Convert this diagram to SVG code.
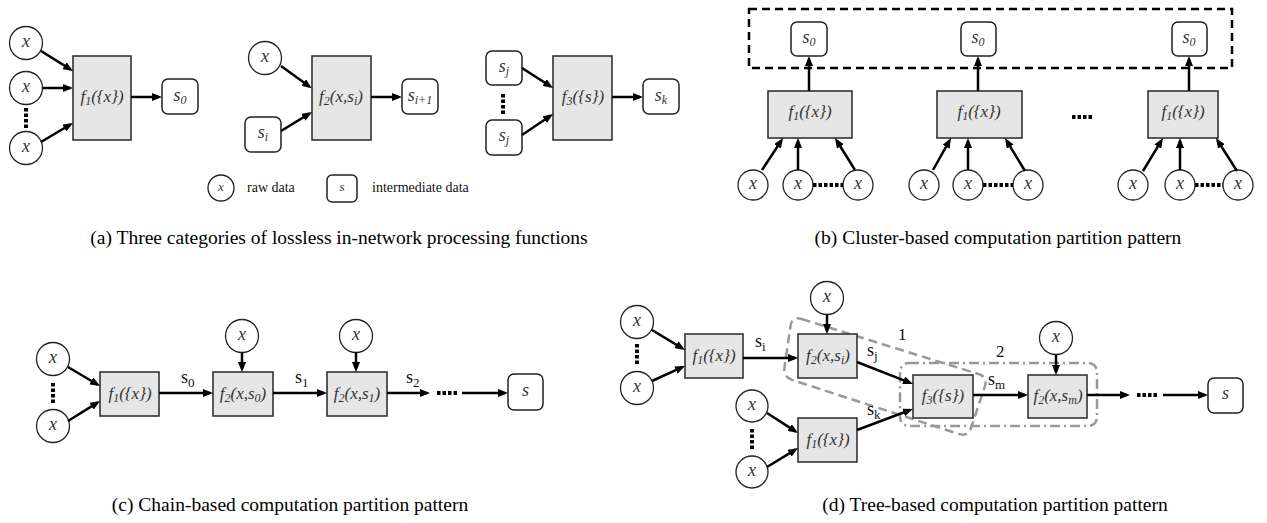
<svg xmlns="http://www.w3.org/2000/svg" width="1267" height="523" viewBox="0 0 1267 523">
<defs>
<marker id="arr" markerUnits="userSpaceOnUse" markerWidth="10" markerHeight="8" viewBox="0 0 10 8" refX="7" refY="4" orient="auto">
<path d="M0,0 L10,4 L0,8 z" fill="#000"/>
</marker>
</defs>
<style>
.box{fill:#e6e6e6;stroke:#333;stroke-width:1.6}
.rb{fill:#fff;stroke:#222;stroke-width:1.5}
.cir{fill:#fff;stroke:#222;stroke-width:1.3}
.e{stroke:#000;stroke-width:2.5;fill:none;marker-end:url(#arr)}
.dots{stroke:#000;stroke-width:4;stroke-dasharray:3.5 2;fill:none}
.lab{font-family:"Liberation Serif",serif;font-style:italic;font-size:17px;fill:#333;text-anchor:middle}
.var{font-family:"Liberation Serif",serif;font-style:italic;font-size:18px;fill:#333;text-anchor:middle}
.el{font-family:"Liberation Serif",serif;font-size:18px;fill:#111}
.cap{font-family:"Liberation Serif",serif;font-size:19.5px;fill:#000;text-anchor:middle}
.leg{font-family:"Liberation Serif",serif;font-size:14px;fill:#111}
.sub{font-size:12px}
.esub{font-size:13px}
.reg1{fill:none;stroke:#999;stroke-width:2.5;stroke-dasharray:9 5}
.reg2{fill:none;stroke:#999;stroke-width:2.5;stroke-dasharray:10 4 2 4}
.bdash{fill:none;stroke:#000;stroke-width:2.5;stroke-dasharray:8 5}
</style>

<!-- ===== Panel (a) ===== -->
<g id="a-x1"><circle class="cir" cx="26" cy="43" r="16.5"/><text class="var" x="26" y="47">x</text></g>
<g id="a-x2"><circle class="cir" cx="26" cy="88" r="16.5"/><text class="var" x="26" y="92">x</text></g>
<g id="a-x3"><circle class="cir" cx="26" cy="148" r="16.5"/><text class="var" x="26" y="152">x</text></g>
<g id="a-f1"><rect class="box" x="73" y="56" width="58" height="84"/><text class="lab" x="102" y="102">f<tspan class="sub" dy="3">1</tspan><tspan dy="-3">({x})</tspan></text></g>
<g id="a-s0"><rect class="rb" x="162" y="79" width="36" height="35" rx="6"/><text class="var" x="180" y="101">s<tspan class="sub" dy="3">0</tspan></text></g>

<g id="a-x4"><circle class="cir" cx="265" cy="58" r="16.5"/><text class="var" x="265" y="62">x</text></g>
<g id="a-si"><rect class="rb" x="245" y="117" width="36" height="35" rx="6"/><text class="var" x="263" y="138">s<tspan class="sub" dy="3">i</tspan></text></g>
<g id="a-f2"><rect class="box" x="312" y="56" width="59" height="84"/><text class="lab" x="341" y="102">f<tspan class="sub" dy="3">2</tspan><tspan dy="-3">(x,s</tspan><tspan class="sub" dy="3">i</tspan><tspan dy="-3">)</tspan></text></g>
<g id="a-si1"><rect class="rb" x="402" y="79" width="36" height="35" rx="6"/><text class="var" x="420" y="101">s<tspan class="sub" dy="3">i+1</tspan></text></g>

<g id="a-sj1"><rect class="rb" x="486" y="51" width="36" height="34" rx="6"/><text class="var" x="504" y="72">s<tspan class="sub" dy="3">j</tspan></text></g>
<g id="a-sj2"><rect class="rb" x="486" y="120" width="36" height="35" rx="6"/><text class="var" x="504" y="141">s<tspan class="sub" dy="3">j</tspan></text></g>
<g id="a-f3"><rect class="box" x="553" y="56" width="59" height="84"/><text class="lab" x="583" y="102">f<tspan class="sub" dy="3">3</tspan><tspan dy="-3">({s})</tspan></text></g>
<g id="a-sk"><rect class="rb" x="643" y="79" width="36" height="35" rx="6"/><text class="var" x="661" y="101">s<tspan class="sub" dy="3">k</tspan></text></g>

<g id="legend">
<circle class="cir" cx="221" cy="188" r="13"/><text class="var" style="font-size:13px" x="221" y="191">x</text>
<text class="leg" x="247" y="192">raw data</text>
<rect class="rb" x="327" y="175" width="30" height="27" rx="5"/><text class="var" style="font-size:13px" x="342" y="191">s</text>
<text class="leg" x="372" y="192">intermediate data</text>
</g>

<!-- ===== Panel (b) ===== -->
<rect id="b-cluster" class="bdash" x="749" y="9" width="483" height="59"/>
<g id="b-s0a"><rect class="rb" x="791" y="22" width="36" height="34" rx="6"/><text class="var" x="809" y="43">s<tspan class="sub" dy="3">0</tspan></text></g>
<g id="b-f1a"><rect class="box" x="768" y="91" width="84" height="47"/><text class="lab" x="810" y="117">f<tspan class="sub" dy="3">1</tspan><tspan dy="-3">({x})</tspan></text></g>
<g id="b-xa1"><circle class="cir" cx="753" cy="185" r="15"/><text class="var" x="753" y="189">x</text></g>
<g id="b-xa2"><circle class="cir" cx="798" cy="185" r="15"/><text class="var" x="798" y="189">x</text></g>
<g id="b-xa3"><circle class="cir" cx="858" cy="185" r="15"/><text class="var" x="858" y="189">x</text></g>

<g id="b-s0b"><rect class="rb" x="961" y="22" width="35" height="34" rx="6"/><text class="var" x="978" y="43">s<tspan class="sub" dy="3">0</tspan></text></g>
<g id="b-f1b"><rect class="box" x="937" y="91" width="85" height="47"/><text class="lab" x="979" y="117">f<tspan class="sub" dy="3">1</tspan><tspan dy="-3">({x})</tspan></text></g>
<g id="b-xb1"><circle class="cir" cx="924" cy="185" r="15"/><text class="var" x="924" y="189">x</text></g>
<g id="b-xb2"><circle class="cir" cx="968" cy="185" r="15"/><text class="var" x="968" y="189">x</text></g>
<g id="b-xb3"><circle class="cir" cx="1028" cy="185" r="15"/><text class="var" x="1028" y="189">x</text></g>

<g id="b-s0c"><rect class="rb" x="1172" y="22" width="35" height="34" rx="6"/><text class="var" x="1189" y="43">s<tspan class="sub" dy="3">0</tspan></text></g>
<g id="b-f1c"><rect class="box" x="1148" y="91" width="70" height="47"/><text class="lab" x="1183" y="117">f<tspan class="sub" dy="3">1</tspan><tspan dy="-3">({x})</tspan></text></g>
<g id="b-xc1"><circle class="cir" cx="1133" cy="185" r="15"/><text class="var" x="1133" y="189">x</text></g>
<g id="b-xc2"><circle class="cir" cx="1180" cy="185" r="15"/><text class="var" x="1180" y="189">x</text></g>
<g id="b-xc3"><circle class="cir" cx="1238" cy="185" r="15"/><text class="var" x="1238" y="189">x</text></g>

<!-- ===== Panel (c) ===== -->
<g id="c-x1"><circle class="cir" cx="53" cy="359" r="16.5"/><text class="var" x="53" y="363">x</text></g>
<g id="c-x2"><circle class="cir" cx="53" cy="426" r="16.5"/><text class="var" x="53" y="430">x</text></g>
<g id="c-f1"><rect class="box" x="100" y="372" width="59" height="44"/><text class="lab" x="130" y="399">f<tspan class="sub" dy="3">1</tspan><tspan dy="-3">({x})</tspan></text></g>
<g id="c-x3"><circle class="cir" cx="242" cy="336" r="16.5"/><text class="var" x="242" y="340">x</text></g>
<g id="c-f2a"><rect class="box" x="213" y="372" width="60" height="44"/><text class="lab" x="243" y="399">f<tspan class="sub" dy="3">2</tspan><tspan dy="-3">(x,s</tspan><tspan class="sub" dy="3">0</tspan><tspan dy="-3">)</tspan></text></g>
<g id="c-x4"><circle class="cir" cx="356" cy="336" r="16.5"/><text class="var" x="356" y="340">x</text></g>
<g id="c-f2b"><rect class="box" x="327" y="372" width="60" height="44"/><text class="lab" x="357" y="399">f<tspan class="sub" dy="3">2</tspan><tspan dy="-3">(x,s</tspan><tspan class="sub" dy="3">1</tspan><tspan dy="-3">)</tspan></text></g>
<g id="c-s"><rect class="rb" x="508" y="374" width="35" height="36" rx="6"/><text class="var" x="525.5" y="396">s</text></g>

<!-- ===== Panel (d) ===== -->
<path id="d-region1" class="reg1" d="M801.6,319 L978.4,374 Q988,377 984.8,386.5 L971.2,427.5 Q968,437 958.5,433.9 L792.5,380.1 Q783,377 784.5,367.1 L790.5,325.9 Q792,316 801.6,319 Z"/>
<rect id="d-region2" class="reg2" x="900" y="363" width="197" height="63" rx="9"/>
<g id="d-x1"><circle class="cir" cx="637" cy="322" r="16.5"/><text class="var" x="637" y="326">x</text></g>
<g id="d-x2"><circle class="cir" cx="637" cy="388" r="16.5"/><text class="var" x="637" y="392">x</text></g>
<g id="d-f1a"><rect class="box" x="685" y="334" width="58" height="44"/><text class="lab" x="714" y="361">f<tspan class="sub" dy="3">1</tspan><tspan dy="-3">({x})</tspan></text></g>
<g id="d-x3"><circle class="cir" cx="827" cy="298" r="16.5"/><text class="var" x="827" y="302">x</text></g>
<g id="d-f2a"><rect class="box" x="798" y="334" width="59" height="44"/><text class="lab" x="828" y="361">f<tspan class="sub" dy="3">2</tspan><tspan dy="-3">(x,s</tspan><tspan class="sub" dy="3">i</tspan><tspan dy="-3">)</tspan></text></g>
<g id="d-x4"><circle class="cir" cx="752" cy="406" r="16"/><text class="var" x="752" y="410">x</text></g>
<g id="d-x5"><circle class="cir" cx="752" cy="472" r="16"/><text class="var" x="752" y="476">x</text></g>
<g id="d-f1b"><rect class="box" x="798" y="418" width="59" height="44"/><text class="lab" x="828" y="445">f<tspan class="sub" dy="3">1</tspan><tspan dy="-3">({x})</tspan></text></g>
<g id="d-f3"><rect class="box" x="913" y="375" width="60" height="43"/><text class="lab" x="943" y="401">f<tspan class="sub" dy="3">3</tspan><tspan dy="-3">({s})</tspan></text></g>
<g id="d-x6"><circle class="cir" cx="1056" cy="338" r="16.5"/><text class="var" x="1056" y="342">x</text></g>
<g id="d-f2b"><rect class="box" x="1028" y="375" width="59" height="43"/><text class="lab" x="1058" y="401">f<tspan class="sub" dy="3">2</tspan><tspan dy="-3">(x,s</tspan><tspan class="sub" dy="3">m</tspan><tspan dy="-3">)</tspan></text></g>
<g id="d-s"><rect class="rb" x="1208" y="378" width="35" height="35" rx="6"/><text class="var" x="1225.5" y="399">s</text></g>
<text class="el" style="font-size:17px" x="898" y="340">1</text>
<text class="el" style="font-size:17px" x="996" y="357">2</text>

<!-- ===== Connectors ===== -->
<g id="connectors">
<path class="e" d="M41,51 L70.5,69.4"/>
<path class="e" d="M43,88 L70,88"/>
<path class="e" d="M41,142 L70.4,124.5"/>
<path class="e" d="M131,97 L159,97"/>
<path class="dots" d="M26,108 L26,129"/>
<path class="e" d="M281,66 L309.4,86.6"/>
<path class="e" d="M281,131 L309.4,113.6"/>
<path class="e" d="M371,97 L399,97"/>
<path class="e" d="M522,68 L550.5,86.4"/>
<path class="e" d="M522,135 L550.5,115.7"/>
<path class="e" d="M612,97 L640,97"/>
<path class="dots" d="M503,94 L503,114"/>

<path class="e" d="M809,91 L809,59"/>
<path class="e" d="M762,170 L781.4,140.5"/>
<path class="e" d="M798,170 L798,141"/>
<path class="e" d="M855,170 L836.6,140.5"/>
<path class="dots" d="M813,185 L843,185"/>
<path class="e" d="M978,91 L978,59"/>
<path class="e" d="M933,170 L949.5,140.6"/>
<path class="e" d="M968,170 L968,141"/>
<path class="e" d="M1025,171 L1006.6,140.6"/>
<path class="dots" d="M983,185 L1013,185"/>
<path class="e" d="M1189,91 L1189,59"/>
<path class="e" d="M1143,171 L1161.4,140.6"/>
<path class="e" d="M1180,170 L1180,141"/>
<path class="e" d="M1237,171 L1217.6,140.5"/>
<path class="dots" d="M1195,185 L1223,185"/>
<path class="dots" d="M1072,117 L1094,117"/>

<path class="e" d="M68,367 L97.4,384.5"/>
<path class="e" d="M68,421 L97.5,402.6"/>
<path class="dots" d="M53,383 L53,404"/>
<path class="e" d="M159,393 L210,393"/>
<path class="e" d="M242,352.5 L242,369"/>
<path class="e" d="M273,393 L324,393"/>
<path class="e" d="M356,352.5 L356,369"/>
<path class="e" d="M387,393 L427,393"/>
<path class="dots" d="M437,393 L458,393"/>
<path class="e" d="M462,393 L505,393"/>
<text class="el" x="181" y="383">s<tspan class="esub" dy="4">0</tspan></text>
<text class="el" x="295" y="383">s<tspan class="esub" dy="4">1</tspan></text>
<text class="el" x="406" y="383">s<tspan class="esub" dy="4">2</tspan></text>

<path class="e" d="M652,330 L682.4,348.4"/>
<path class="e" d="M652,381 L682.3,367.2"/>
<path class="dots" d="M637,344 L637,365"/>
<path class="e" d="M743,358 L795,358"/>
<path class="e" d="M827,314.5 L827,331"/>
<path class="e" d="M857,362 L910.2,382.9"/>
<path class="e" d="M767,413 L795.5,431.4"/>
<path class="e" d="M767,467 L795.5,449.6"/>
<path class="dots" d="M752,429 L752,450"/>
<path class="e" d="M857,430 L910.2,410"/>
<path class="e" d="M973,395 L1025,395"/>
<path class="e" d="M1056,354.5 L1056,372"/>
<path class="e" d="M1087,395 L1127,395"/>
<path class="dots" d="M1137,395 L1158,395"/>
<path class="e" d="M1163,395 L1205,395"/>
<text class="el" x="755" y="347">s<tspan class="esub" dy="4">i</tspan></text>
<text class="el" x="867" y="356">s<tspan class="esub" dy="4">j</tspan></text>
<text class="el" x="867" y="415">s<tspan class="esub" dy="4">k</tspan></text>
<text class="el" x="988" y="385">s<tspan class="esub" dy="4">m</tspan></text>
</g>

<!-- ===== Captions ===== -->
<text class="cap" x="339" y="244">(a) Three categories of lossless in-network processing functions</text>
<text class="cap" x="998" y="244">(b) Cluster-based computation partition pattern</text>
<text class="cap" x="290" y="511">(c) Chain-based computation partition pattern</text>
<text class="cap" x="995" y="511">(d) Tree-based computation partition pattern</text>
</svg>
